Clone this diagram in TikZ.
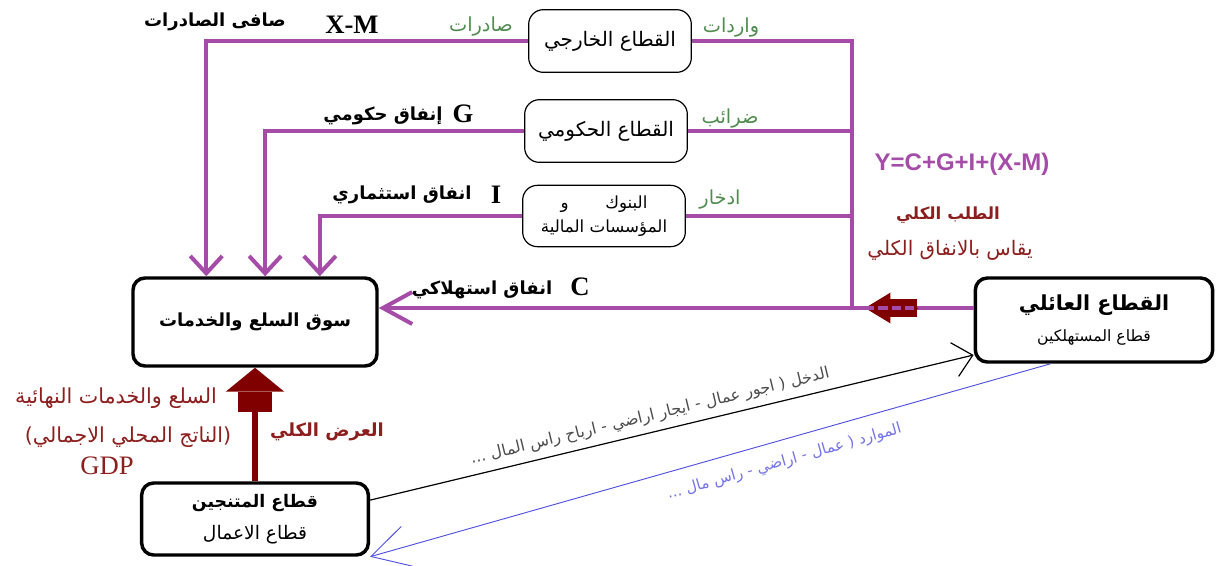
\documentclass[tikz,border=0pt]{standalone}
\usepackage{fontspec}
\setmainfont{Liberation Serif}
\newfontfamily\arabicfont[Script=Arabic]{DejaVu Sans}
\newfontfamily\formulafont{Liberation Sans}
\TeXXeTstate=1
\usetikzlibrary{arrows.meta,calc}

\definecolor{flowpurple}{RGB}{165,76,168}
\definecolor{supplyred}{RGB}{128,0,0}
\definecolor{labelred}{RGB}{140,30,30}
\definecolor{labelgreen}{RGB}{80,140,80}
\definecolor{resblue}{RGB}{80,80,225}

\newcommand{\artxt}[1]{{\arabicfont\beginR #1\endR}}

\begin{document}
\begin{tikzpicture}[x=0.75pt,y=-0.75pt,
  sector/.style={draw,rounded corners=11pt,line width=0.9pt,minimum width=122pt,minimum height=47pt,font=\fontsize{15}{17}\selectfont},
  mainbox/.style={draw,rounded corners=9pt,line width=2.6pt,align=center},
  flow/.style={flowpurple,line width=3pt},
  downtip/.style={-{Straight Barb[length=13pt,width=24pt]}},
  lbl/.style={font=\bfseries\fontsize{13.5}{15}\selectfont},
  letter/.style={font=\bfseries\fontsize{20}{22}\selectfont},
  flowlbl/.style={labelgreen,font=\fontsize{14.5}{16}\selectfont},
  redlbl/.style={labelred,font=\fontsize{15.5}{17}\selectfont}]

\useasboundingbox (0,0) rectangle (1217,565);

\node[sector] (fx) at (610,41) {\artxt{القطاع الخارجي}};
\node[sector] (gov) at (606,131) {\artxt{القطاع الحكومي}};
\node[sector,align=center,minimum height=46pt,font=\fontsize{12.5}{15}\selectfont] (bank) at (604,216) {\artxt{البنوك\hspace{2.2em}و}\\[3pt]\artxt{المؤسسات المالية}};

\node[mainbox,minimum width=183pt,minimum height=66pt,font=\bfseries\fontsize{13.5}{15}\selectfont] (market) at (255,322) {\artxt{سوق السلع والخدمات}};
\node[mainbox,minimum width=178pt,minimum height=63pt] (hh) at (1094,320) {{\bfseries\fontsize{15.5}{18}\selectfont\artxt{القطاع العائلي}}\\[10pt]{\fontsize{11.7}{13}\selectfont\artxt{قطاع المستهلكين}}};
\node[mainbox,minimum width=170pt,minimum height=54pt] (prod) at (255,519) {{\bfseries\fontsize{13}{15}\selectfont\artxt{قطاع المتنجين}}\\[9pt]{\fontsize{14}{15}\selectfont\artxt{قطاع الاعمال}}};

\coordinate (hub) at (852,308);
\coordinate (blkstart) at (920,308);
\coordinate (blkend) at (865,308);

\node[lbl] (nxlbl) at (215,22) {\artxt{صافى الصادرات}};
\node[letter] (xm) at (352,25) {X-M};
\node[flowlbl] (exlbl) at (481,27) {\artxt{صادرات}};
\node[flowlbl] (imlbl) at (731,28) {\artxt{واردات}};
\node[lbl] (glbl) at (383,116) {\artxt{إنفاق حكومي}};
\node[letter] (gl) at (463,114) {G};
\node[flowlbl] (taxlbl) at (730,119) {\artxt{ضرائب}};
\node[lbl] (ilbl) at (402,195) {\artxt{انفاق استثماري}};
\node[letter] (il) at (496,195) {I};
\node[flowlbl] (savlbl) at (720,200) {\artxt{ادخار}};
\node[lbl] (clbl) at (482,290) {\artxt{انفاق استهلاكي}};
\node[letter] (cl) at (580,287) {C};
\node[flowpurple,font=\formulafont\bfseries\fontsize{18}{20}\selectfont] (ylbl) at (962,164) {Y=C+G+I+(X-M)};
\node[labelred,font=\bfseries\fontsize{12.5}{14}\selectfont] (adlbl) at (948,215) {\artxt{الطلب الكلي}};
\node[redlbl,font=\fontsize{15}{17}\selectfont] (admeas) at (950,250) {\artxt{يقاس بالانفاق الكلي}};
\node[redlbl] (goods) at (116,398) {\artxt{السلع والخدمات النهائية}};
\node[redlbl] (gdpar) at (128,437) {\artxt{(الناتج المحلي الاجمالي)}};
\node[labelred,font=\fontsize{20}{22}\selectfont] (gdp) at (107,466) {GDP};
\node[lbl,labelred] (aslbl) at (327,432) {\artxt{العرض الكلي}};

\draw[flow,downtip] (fx.west) -| ($(market.north west)!.303!(market.north east)$);
\draw[flow,downtip] (gov.west) -| ($(market.north west)!.541!(market.north east)$);
\draw[flow,downtip] (bank.west) -| ($(market.north west)!.762!(market.north east)$);
\draw[flow] (fx.east) -| (hub);
\draw[flow] (gov.east) -- (gov.east -| hub);
\draw[flow] (bank.east) -- (bank.east -| hub);
\draw[flow,-{Straight Barb[length=22pt,width=24pt]}] (hh.west |- hub) -- (market.east |- hub);

\draw[supplyred,line width=0.5pt,-{Rectangle[length=20pt,width=13pt,sep=0pt,line width=0pt]Triangle[length=19pt,width=23pt,line width=0pt]}] (blkstart) -- (blkend);
\draw[flowpurple,line width=2.5pt,dash pattern=on 7pt off 3pt] (blkend) -- (blkstart);

\draw[supplyred,line width=3.8pt,-{Rectangle[length=15pt,width=26pt,sep=0pt,line width=0pt]Triangle[length=18pt,width=44pt,line width=0pt]}] (prod.north) -- (market.south);

\draw[line width=0.9pt,-{Straight Barb[length=14pt,width=26pt]}] ($(prod.north east)!.25!(prod.south east)$) -- node[sloped,above=2pt,pos=.47,black!70,font=\fontsize{12}{14}\selectfont] (inclbl) {\artxt{الدخل ( اجور عمال - ايجار اراضي - ارباح راس المال ...}} ($(hh.north west)!.9!(hh.south west)$);
\draw[resblue,line width=0.7pt,{Straight Barb[length=28pt,width=31pt]}-] (prod.south east) -- node[sloped,below=7pt,pos=.6,resblue!80,font=\fontsize{11.4}{13}\selectfont] (reslbl) {\artxt{الموارد ( عمال - اراضي - راس مال ...}} ($(hh.south west)!.32!(hh.south east)$);

\end{tikzpicture}
\end{document}
